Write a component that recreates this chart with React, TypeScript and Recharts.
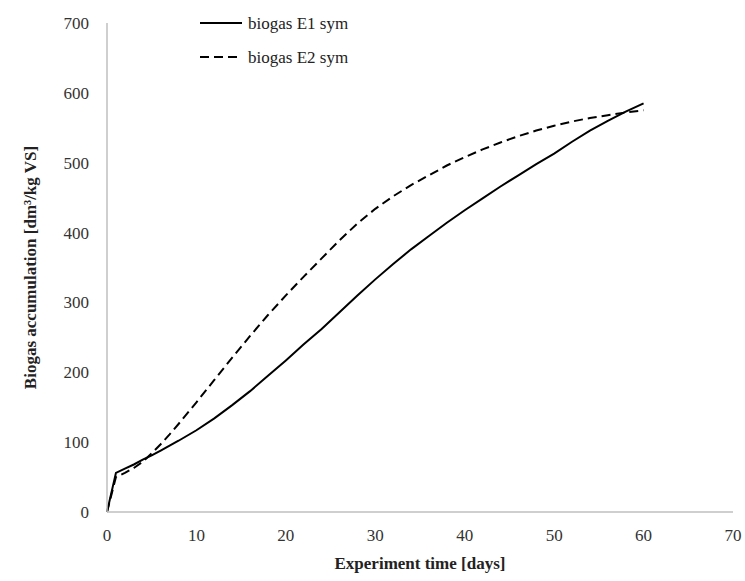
import React from 'react';
import { LineChart, Line, XAxis, YAxis } from 'recharts';

const days = [0, 1, 2, 3, 4, 5, 6, 7, 8, 10, 12, 14, 16, 18, 20, 22, 24, 26, 28, 30, 32, 34, 36, 38, 40, 42, 44, 46, 48, 50, 52, 54, 56, 58, 60];
const e1 = [0, 56, 62, 68, 75, 81, 88, 95, 102, 117, 134, 153, 173, 195, 217, 240, 262, 286, 310, 333, 355, 376, 395, 414, 432, 449, 466, 482, 498, 513, 530, 546, 560, 573, 585];
const e2 = [0, 50, 56, 63, 72, 84, 97, 111, 126, 157, 189, 221, 252, 282, 310, 337, 363, 389, 413, 434, 452, 468, 482, 496, 508, 519, 529, 538, 546, 553, 559, 564, 568, 572, 575];
const xTicks = [0, 10, 20, 30, 40, 50, 60, 70];
const yTicks = [0, 100, 200, 300, 400, 500, 600, 700];
const legendNames = ['biogas E1 sym', 'biogas E2 sym'];

const data = days.map((d, i) => ({ day: d, e1: e1[i], e2: e2[i] }));

const FONT = '"Liberation Serif", serif';

export default function App() {
  return (
    <div style={{ position: 'absolute', left: 0, top: 0, width: 745, height: 581, background: '#fff' }}>
      <LineChart width={745} height={581} data={data} margin={{ top: 23, right: 12, left: 47, bottom: 9 }}>
        <XAxis
          dataKey="day"
          type="number"
          domain={[0, 70]}
          ticks={xTicks}
          tickLine={false}
          tickSize={0}
          tickMargin={17}
          height={60}
          axisLine={{ stroke: '#bfbfbf', strokeWidth: 1.5 }}
          tick={{ fontFamily: FONT, fontSize: 17, fill: '#333' }}
          label={{ value: 'Experiment time [days]', position: 'insideBottom', offset: 3, style: { fontFamily: FONT, fontSize: 17, fontWeight: 'bold', fill: '#222' } }}
        />
        <YAxis
          type="number"
          domain={[0, 700]}
          ticks={yTicks}
          tickLine={false}
          tickSize={0}
          tickMargin={18}
          width={60}
          axisLine={{ stroke: '#bfbfbf', strokeWidth: 1.5 }}
          tick={{ fontFamily: FONT, fontSize: 17, fill: '#333' }}
          label={{ value: 'Biogas accumulation [dm³/kg VS]', angle: -90, position: 'insideLeft', offset: -17, style: { fontFamily: FONT, fontSize: 17, fontWeight: 'bold', fill: '#222', textAnchor: 'middle' } }}
        />
        <Line type="linear" dataKey="e1" stroke="#000" strokeWidth={2} dot={false} isAnimationActive={false} name={legendNames[0]} />
        <Line type="linear" dataKey="e2" stroke="#000" strokeWidth={2} strokeDasharray="9 5" dot={false} isAnimationActive={false} name={legendNames[1]} />
      </LineChart>
      <svg width={220} height={70} style={{ position: 'absolute', left: 198, top: 14 }}>
        <line x1={2} y1={9} x2={44} y2={9} stroke="#000" strokeWidth={2} />
        <text x={50} y={9} dy="0.35em" fontFamily={FONT} fontSize={17} fill="#222">{legendNames[0]}</text>
        <line x1={2} y1={43} x2={44} y2={43} stroke="#000" strokeWidth={2} strokeDasharray="9 5" />
        <text x={50} y={43} dy="0.35em" fontFamily={FONT} fontSize={17} fill="#222">{legendNames[1]}</text>
      </svg>
    </div>
  );
}
